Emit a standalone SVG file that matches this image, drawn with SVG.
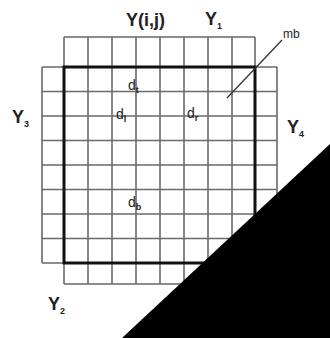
<svg xmlns="http://www.w3.org/2000/svg" width="330" height="338" viewBox="0 0 330 338">
<style>
.g{stroke:#6a6a6a;stroke-width:1.6;fill:none}
.t{font-family:"Liberation Sans",Arial,sans-serif;fill:#222}
.Y{font-size:18px;font-weight:bold}
.d{font-size:14px}
.s{font-size:9px;font-weight:bold}
</style>
<rect width="330" height="338" fill="#fff"/>
<g id="grid">
<path class="g" d="M64,37H255M42,91.5H277M42,116H277M42,140.5H277M42,165H277M42,189.5H277M42,214H277M42,238.5H277M64,284H255M42,67H277M42,263H277"/>
<path class="g" d="M42,67V263M277,67V263M64,37V284M88,37V284M112,37V284M136,37V284M160,37V284M184,37V284M208,37V284M232,37V284M255,37V284"/>
</g>
<g id="mb-boundary">
<rect x="64" y="67" width="191" height="196" fill="none" stroke="#111" stroke-width="3"/>
</g>
<g id="connectors">
<line x1="282" y1="40" x2="227" y2="98" stroke="#333" stroke-width="1.3"/>
</g>
<g id="labels">
<text class="t" x="283" y="38" font-size="12">mb</text>
<text class="t Y" x="126" y="26" font-size="17">Y(i,j)</text>
<text class="t Y" x="205" y="25">Y<tspan class="s" dy="4">1</tspan></text>
<text class="t Y" x="12" y="123">Y<tspan class="s" dy="4">3</tspan></text>
<text class="t Y" x="287" y="133">Y<tspan class="s" dy="4">4</tspan></text>
<text class="t Y" x="48" y="310">Y<tspan class="s" dy="4">2</tspan></text>
<text class="t d" x="128" y="90">d<tspan class="s" dy="3">t</tspan></text>
<text class="t d" x="116" y="119">d<tspan class="s" dy="3">l</tspan></text>
<text class="t d" x="187" y="118">d<tspan class="s" dy="3">r</tspan></text>
<text class="t d" x="128" y="207">d<tspan class="s" dy="3">b</tspan></text>
</g>
<polygon points="330,144 330,338 122,338" fill="#000"/>
</svg>
